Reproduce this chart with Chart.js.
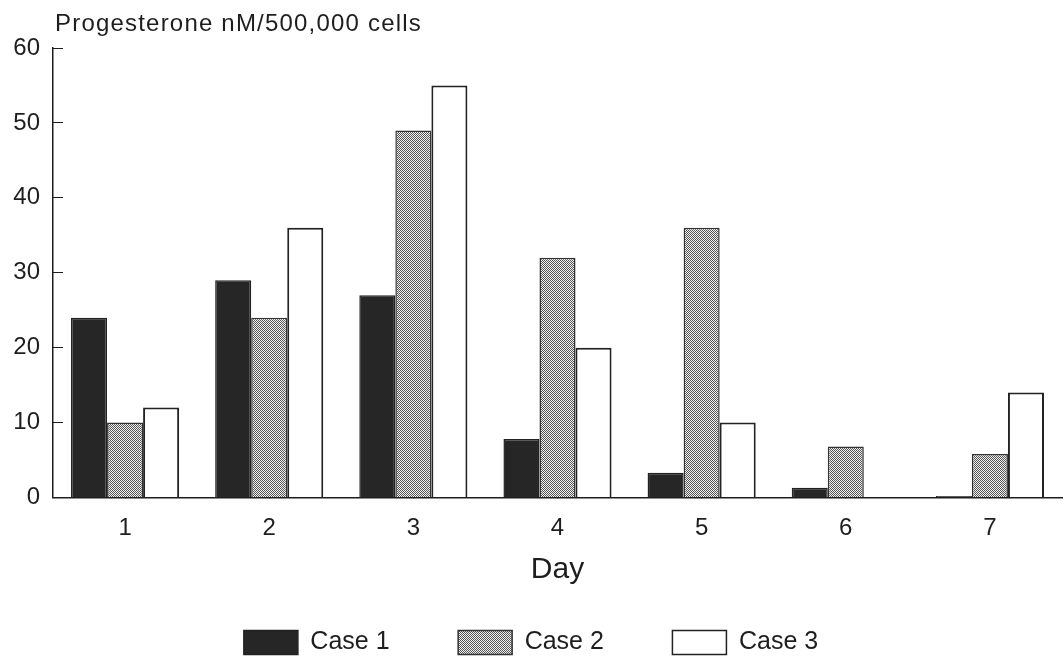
<!DOCTYPE html>
<html>
<head>
<meta charset="utf-8">
<script src="https://cdn.jsdelivr.net/npm/chart.js@4/dist/chart.umd.min.js"></script>
<style>
  html, body { margin: 0; padding: 0; background: #fff; }
  #wrap { width: 1064px; height: 665px; position: relative; }
</style>
</head>
<body>
<div id="wrap"><canvas id="progChart"></canvas></div>
<script>
var days = ['1', '2', '3', '4', '5', '6', '7'];
var case1 = [24, 29, 27, 7.8, 3.3, 1.3, 0.2];
var case2 = [10, 24, 49, 32, 36, 6.8, 5.8];
var case3 = [12, 36, 55, 20, 10, 0, 14];
var seriesNames = ['Case 1', 'Case 2', 'Case 3'];
var yTicks = [0, 10, 20, 30, 40, 50, 60];
var yTitle = 'Progesterone nM/500,000 cells';
var xTitle = 'Day';

var FONT = '"Liberation Sans", Arial, Helvetica, sans-serif';
var INK = '#1e1e1e';

// stipple fill for case 2
function makeStipple() {
  var c = document.createElement('canvas');
  c.width = 2; c.height = 2;
  var g = c.getContext('2d');
  g.fillStyle = '#f2f2f2';
  g.fillRect(0, 0, 2, 2);
  g.fillStyle = '#555555';
  g.fillRect(0, 0, 1, 1);
  g.fillRect(1, 1, 1, 1);
  return g.createPattern(c, 'repeat');
}

// title above the y axis, left aligned with the axis
var yTitlePlugin = {
  id: 'yTitle',
  afterDraw: function(chart) {
    var ctx = chart.ctx;
    ctx.save();
    ctx.font = '24px ' + FONT;
    ctx.letterSpacing = '1.2px';
    ctx.fillStyle = INK;
    ctx.textBaseline = 'alphabetic';
    ctx.textAlign = 'left';
    ctx.fillText(yTitle, chart.chartArea.left + 2, 31);
    ctx.restore();
  }
};

var stipple = makeStipple();

var chart = new Chart(document.getElementById('progChart'), {
  type: 'bar',
  data: {
    labels: days,
    datasets: [
      { label: seriesNames[0], data: case1, backgroundColor: '#262626', borderColor: '#222', borderWidth: 1.5 },
      { label: seriesNames[1], data: case2, backgroundColor: stipple, borderColor: '#333', borderWidth: 1.5 },
      { label: seriesNames[2], data: case3, backgroundColor: '#ffffff', borderColor: '#222', borderWidth: 2 }
    ]
  },
  options: {
    responsive: true,
    maintainAspectRatio: false,
    animation: false,
    layout: { padding: { top: 48, left: 0, right: 2, bottom: 0 } },
    datasets: { bar: { categoryPercentage: 0.75, barPercentage: 1.0 } },
    scales: {
      x: {
        afterFit: function(scale) { scale.height = 119.5; },
        grid: { display: true, drawOnChartArea: false, offset: false, tickLength: -6, color: INK, tickWidth: 1 },
        border: { display: true, color: INK, width: 1.5 },
        ticks: { color: INK, font: { family: FONT, size: 24 }, padding: 22 },
        title: { display: true, text: xTitle, color: INK, font: { family: FONT, size: 30 }, padding: { top: 4, bottom: 29 } }
      },
      y: {
        min: 0, max: 60,
        afterFit: function(scale) { scale.width = 53; },
        afterBuildTicks: function(axis) { axis.ticks = yTicks.map(function(v) { return { value: v }; }); },
        grid: { display: true, drawOnChartArea: false, tickLength: -10, color: INK, tickWidth: 1 },
        border: { display: true, color: INK, width: 1.5 },
        ticks: { color: INK, font: { family: FONT, size: 24 }, padding: 23 }
      }
    },
    plugins: {
      legend: {
        position: 'bottom',
        labels: {
          color: INK,
          font: { family: FONT, size: 25 },
          boxWidth: 54,
          boxHeight: 24,
          padding: 13,
          generateLabels: function(ch) {
            var items = Chart.defaults.plugins.legend.labels.generateLabels(ch);
            items.forEach(function(it, i) {
              if (i < items.length - 1) it.text = it.text + '        ';
              it.lineWidth = 1.5;
            });
            return items;
          }
        }
      },
      tooltip: { enabled: false }
    }
  },
  plugins: [yTitlePlugin]
});
</script>
</body>
</html>
